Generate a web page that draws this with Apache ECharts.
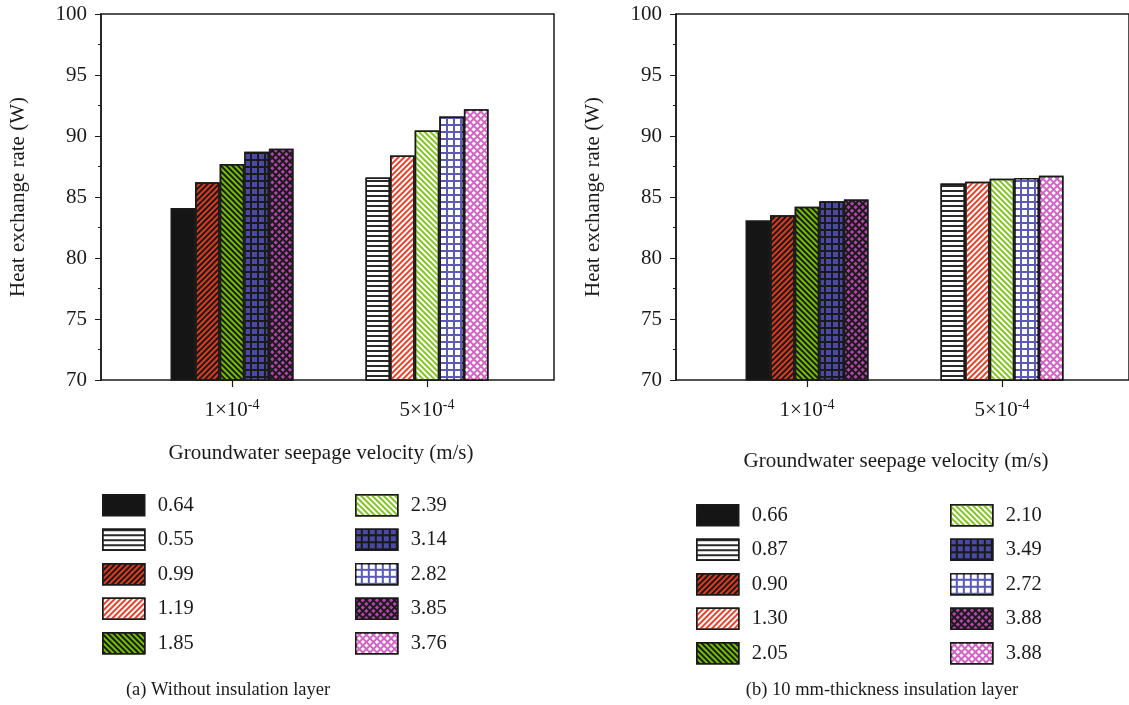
<!DOCTYPE html>
<html>
<head>
<meta charset="utf-8">
<title>Heat exchange rate vs groundwater seepage velocity</title>
<script src="https://cdn.jsdelivr.net/npm/echarts@6/dist/echarts.min.js"></script>
<style>
  html, body { margin: 0; padding: 0; background: #fff; }
  #chart { width: 1129px; height: 705px; }
</style>
</head>
<body>
<div id="chart"></div>
<script>
// Seepage velocity categories (exponent written after the last '-')
const categories = ['1×10-4', '5×10-4'];
const yTicks = { min: 70, max: 100, step: 5 };

// (a) without insulation layer: bars at 1×10^-4 and 5×10^-4
const leftLowNames = ['0.64', '0.99', '1.85', '3.14', '3.85'];
const leftLowValues = [84.1, 86.2, 87.7, 88.7, 88.95];
const leftHighNames = ['0.55', '1.19', '2.39', '2.82', '3.76'];
const leftHighValues = [86.6, 88.4, 90.45, 91.6, 92.2];

// (b) 10 mm-thickness insulation layer
const rightLowNames = ['0.66', '0.90', '2.05', '3.49', '3.88'];
const rightLowValues = [83.1, 83.5, 84.2, 84.65, 84.8];
const rightHighNames = ['0.87', '1.30', '2.10', '2.72', '3.88'];
const rightHighValues = [86.1, 86.25, 86.5, 86.55, 86.75];

const captions = ['(a) Without insulation layer', '(b) 10 mm-thickness insulation layer'];
const xTitle = 'Groundwater seepage velocity (m/s)';
const yTitle = 'Heat exchange rate (W)';

const FONT = '"Liberation Serif", "DejaVu Serif", serif';
const INK = '#1a1a1a';

// Fill + hatch for each bar slot: [dark variant (1×10^-4), light variant (5×10^-4)]
function stripes(color, rot, on, off) {
  return { symbol: 'rect', symbolSize: 1, color: color, dashArrayX: [1, 0], dashArrayY: [on, off], rotation: rot };
}
function cells(color, size, gap, rot) {
  return { symbol: 'rect', symbolSize: 1, color: color, dashArrayX: [size, gap], dashArrayY: [size, gap], rotation: rot || 0 };
}
const slotStyles = [
  [{ color: '#151515', decal: null },
   { color: '#ffffff', decal: stripes('#2a2a2a', 0, 1.5, 3) }],
  [{ color: '#dd3a1e', decal: stripes(INK, -Math.PI / 4, 1.4, 2) },
   { color: '#ffffff', decal: stripes('#e8422a', -Math.PI / 4, 1.4, 2) }],
  [{ color: '#74bf00', decal: stripes(INK, Math.PI / 4, 1.4, 2) },
   { color: '#ffffff', decal: stripes('#82c520', Math.PI / 4, 1.4, 2) }],
  [{ color: INK, decal: cells('#4a4aa6', 4.3, 1.6) },
   { color: '#5a5ab8', decal: cells('#ffffff', 4.6, 1.2) }],
  [{ color: INK, decal: cells('#b443ab', 2.6, 1.3, Math.PI / 4) },
   { color: '#d264c4', decal: cells('#ffffff', 2.6, 1.2, Math.PI / 4) }]
];

// Panel geometry
const panels = [
  { frameLeft: 101, legendTop: 489, col1: 97, col2: 350, titleY: 453, titleX: 321, capX: 228,
    lowNames: leftLowNames, lowValues: leftLowValues, highNames: leftHighNames, highValues: leftHighValues },
  { frameLeft: 676, legendTop: 499, col1: 691, col2: 945, titleY: 461, titleX: 896, capX: 882,
    lowNames: rightLowNames, lowValues: rightLowValues, highNames: rightHighNames, highValues: rightHighValues }
];
const FRAME_W = 453, TOP = 14, H = 366, INSET = 33.5, BAND = 195;

const grid = [], xAxis = [], yAxis = [], series = [], legend = [], graphic = [];

function xLabel(v) {
  return v.replace(/^(.*×10)(-\d+)$/, '$1{sup|$2}');
}

panels.forEach(function (p, pi) {
  const frameIdx = grid.length;
  grid.push({ left: p.frameLeft, top: TOP, width: FRAME_W, height: H, show: true,
              borderColor: INK, borderWidth: 1.5, backgroundColor: 'transparent' });
  const barIdx = grid.length;
  grid.push({ left: p.frameLeft + INSET, top: TOP, width: BAND * 2, height: H });

  // frame axes (value scale + labels)
  xAxis.push({ gridIndex: frameIdx, type: 'value', show: false, min: 0, max: 1 });
  yAxis.push({
    gridIndex: frameIdx, type: 'value', min: yTicks.min, max: yTicks.max, interval: yTicks.step,
    name: yTitle, nameLocation: 'middle', nameGap: 72,
    nameTextStyle: { fontFamily: FONT, fontSize: 21, color: INK },
    axisLine: { show: true, lineStyle: { color: INK, width: 1.5 } },
    axisTick: { show: true, length: 6, lineStyle: { color: INK, width: 1 } },
    minorTick: { show: true, splitNumber: 2, length: 3, lineStyle: { color: INK, width: 1 } },
    axisLabel: { fontFamily: FONT, fontSize: 21, color: INK, margin: 14 },
    splitLine: { show: false }
  });

  // bar axes
  xAxis.push({
    gridIndex: barIdx, type: 'category', data: categories,
    axisLine: { show: false },
    axisTick: { show: true, alignWithLabel: true, length: 7, lineStyle: { color: INK, width: 1.2 } },
    axisLabel: {
      margin: 18, formatter: xLabel,
      fontFamily: FONT, fontSize: 21, color: INK,
      rich: { sup: { fontFamily: FONT, fontSize: 14, color: INK, padding: [0, 0, 10, 0] } }
    }
  });
  yAxis.push({ gridIndex: barIdx, type: 'value', min: yTicks.min, max: yTicks.max, interval: yTicks.step, show: false });

  const axisIdx = xAxis.length - 1;
  const used = {};
  function uniqueName(n) {
    let s = n;
    while (used[s]) s += ' ';
    used[s] = true;
    return s;
  }
  const legendOrder = [];
  for (let k = 0; k < 5; k++) {
    [[p.lowNames[k], [p.lowValues[k], '-'], 0], [p.highNames[k], ['-', p.highValues[k]], 1]].forEach(function (e) {
      const st = slotStyles[k][e[2]];
      const name = uniqueName(e[0]);
      legendOrder.push(name);
      series.push({
        type: 'bar', name: name, xAxisIndex: axisIdx, yAxisIndex: axisIdx,
        stack: 'p' + pi + '_' + k, data: e[1],
        barWidth: 24.6, barGap: '0%', clip: true,
        itemStyle: { color: st.color, decal: st.decal, borderColor: INK, borderWidth: 1.5 },
        emphasis: { disabled: true }
      });
    });
  }
  // legend columns follow slot order: low0, high0, low1, high1, low2 | high2, low3, high3, low4, high4
  [legendOrder.slice(0, 5), legendOrder.slice(5)].forEach(function (col, ci) {
    legend.push({
      orient: 'vertical', left: ci === 0 ? p.col1 : p.col2, top: p.legendTop,
      data: col, itemWidth: 42, itemHeight: 21, itemGap: 12,
      icon: 'rect', selectedMode: false,
      formatter: function (n) { return n.trim(); },
      itemStyle: { borderColor: INK, borderWidth: 1.5 },
      textStyle: { fontFamily: FONT, fontSize: 20.5, color: INK, lineHeight: 21, padding: [0, 0, 0, 8] }
    });
  });

  graphic.push({ type: 'text', x: p.titleX, y: p.titleY,
    style: { text: xTitle, font: '21px ' + FONT, fill: INK, align: 'center', verticalAlign: 'middle' } });
  graphic.push({ type: 'text', x: p.capX, y: 690,
    style: { text: captions[pi], font: '18.5px ' + FONT, fill: INK, align: 'center', verticalAlign: 'middle' } });
});

const chart = echarts.init(document.getElementById('chart'), null, { renderer: 'canvas' });
chart.setOption({
  animation: false,
  backgroundColor: '#ffffff',
  grid: grid, xAxis: xAxis, yAxis: yAxis, series: series, legend: legend, graphic: graphic
});
</script>
</body>
</html>
